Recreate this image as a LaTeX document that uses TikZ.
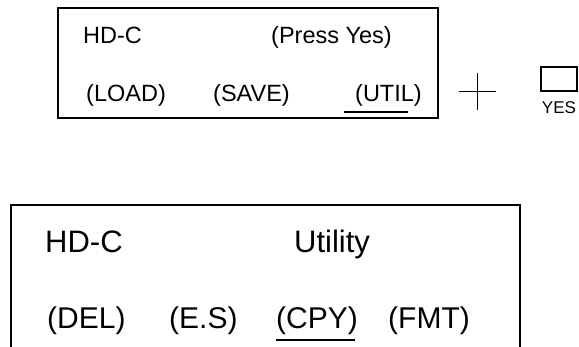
\documentclass[tikz,border=0pt]{standalone}
\usepackage{fontspec}
\setmainfont{Liberation Sans}
\tikzstyle{small} = [inner sep=0pt, anchor=base west, font=\fontsize{23.5}{28}\selectfont]
\tikzstyle{big} = [inner sep=0pt, anchor=base west, font=\fontsize{31}{36}\selectfont]
\tikzstyle{soft} = [inner sep=0pt, anchor=base west, font=\fontsize{30}{35}\selectfont]
\tikzstyle{key} = [rectangle, draw=black, line width=1.2pt, minimum width=36pt, minimum height=24pt, inner sep=0pt]

\begin{document}
\begin{tikzpicture}[x=1pt, y=-1pt]
    \useasboundingbox (0,0) rectangle (579,347);
    % upper display
    \draw [line width=1.2pt] (58,8) rectangle (438,118);
    \node (hdc1) [small] at (83,44) {HD-C};
    \node (press) [small] at (271,44) {(Press Yes)};
    \node (load) [small] at (86,102) {(LOAD)};
    \node (save) [small] at (213,102) {(SAVE)};
    \node (util) [small] at (355,102) {(UTIL)};
    \draw [line width=1.3pt] (344,112) -- (408,112);
    % plus and yes key
    \draw [line width=1pt] (459,92) -- (496,92);
    \draw [line width=1pt] (477.5,73) -- (477.5,110);
    \node (yesbtn) [key] at (559,79) {};
    \node (yes) [inner sep=0pt, anchor=base, font=\fontsize{17}{20}\selectfont] at (559,114) {YES};
    % lower display
    \draw [line width=1.8pt] (11,350) -- (11,205) -- (520,205) -- (520,350);
    \node (hdc2) [big] at (45,253) {HD-C};
    \node (utility) [big] at (294,253) {Utility};
    \node (del) [soft] at (47,329) {(DEL)};
    \node (es) [soft] at (169,329) {(E.S)};
    \node (cpy) [soft] at (276,329) {(CPY)};
    \node (fmt) [soft] at (388,329) {(FMT)};
    \draw [line width=1.6pt] (276,340) -- (355,340);
\end{tikzpicture}
\end{document}
